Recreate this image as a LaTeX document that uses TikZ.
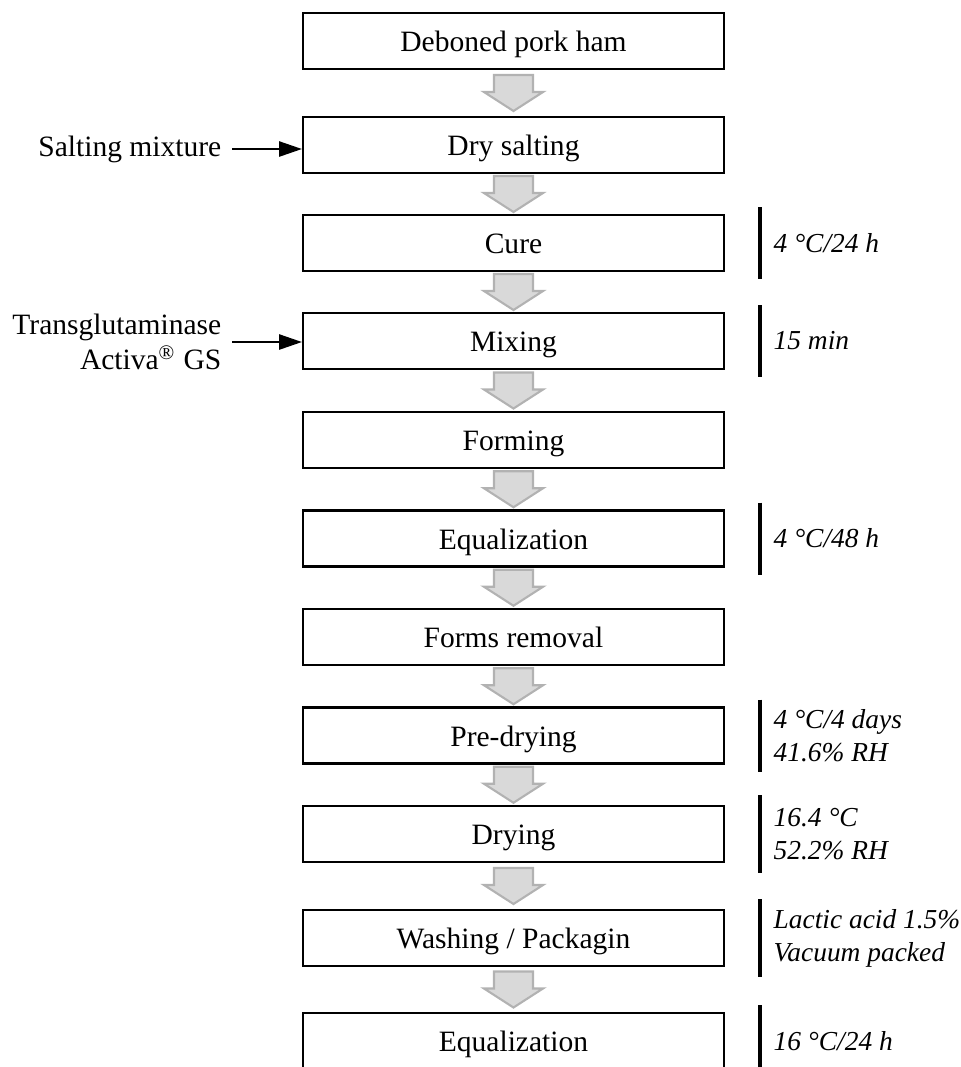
\documentclass[tikz,border=0pt]{standalone}
\usepackage{fontspec}
\setmainfont{Liberation Serif}
\usetikzlibrary{arrows.meta,calc}

\begin{document}
\begin{tikzpicture}[
		stepbox/.style={draw, line width=0.6pt, minimum width=4.21cm, minimum height=0.56cm, inner sep=0pt, text height=0.82em, text depth=0.2em, font=\fontsize{8.4}{10}\selectfont},
		flowarrow/.style={draw=black!30, fill=black!15, line width=0.6pt, line join=miter},
		inarrow/.style={-{Triangle[length=6.5pt,width=4.3pt]}, line width=0.6pt},
		notebar/.style={line width=0.9pt},
		note/.style={anchor=west, align=left, inner sep=0pt, font=\fontsize{7.8}{9.4}\selectfont\itshape},
		inlabel/.style={anchor=east, align=right, inner xsep=1mm, inner ysep=0pt, font=\fontsize{8.4}{10}\selectfont}
	]
		\useasboundingbox (0,0) rectangle (9.6,-10.67);
		%Process steps
		\node [stepbox] (b1) at (5.135,-0.41) {Deboned pork ham};
		\node [stepbox] (b2) at (5.135,-1.45) {Dry salting};
		\node [stepbox] (b3) at (5.135,-2.43) {Cure};
		\node [stepbox] (b4) at (5.135,-3.41) {Mixing};
		\node [stepbox] (b5) at (5.135,-4.40) {Forming};
		\node [stepbox] (b6) at (5.135,-5.385) {Equalization};
		\node [stepbox] (b7) at (5.135,-6.37) {Forms removal};
		\node [stepbox] (b8) at (5.135,-7.355) {Pre-drying};
		\node [stepbox] (b9) at (5.135,-8.34) {Drying};
		\node [stepbox] (b10) at (5.135,-9.38) {Washing / Packagin};
		\node [stepbox] (b11) at (5.135,-10.41) {Equalization};
		%Gray arrows between the steps
		\foreach \a/\b in {b1/b2,b2/b3,b3/b4,b4/b5,b5/b6,b6/b7,b7/b8,b8/b9,b9/b10,b10/b11} {
			\path (\a.south) -- (\b.north) coordinate [midway] (m\a);
			\draw [flowarrow] ($(m\a)+(-0.195,0.18)$) -- ++(0.39,0) -- ++(0,-0.17) -- ++(0.1,0)
				-- ($(m\a)+(0,-0.18)$) -- ($(m\a)+(-0.295,0.01)$) -- ++(0.1,0) -- cycle;
		}
		%Inputs from the left
		\node [inlabel] (salt) at (2.32,-1.49) {Salting mixture};
		\draw [inarrow] (salt.east) -- (salt.east -| b2.west);
		\node [inlabel] (tg) at (2.32,-3.42) {Transglutaminase\\Activa\textsuperscript{\textregistered} GS};
		\draw [inarrow] (tg.east) -- (tg.east -| b4.west);
		%Conditions on the right
		\coordinate (barx) at (7.6,0);
		%cure
		\draw [notebar] ($(b3.east -| barx)+(0,0.36)$) -- ($(b3.east -| barx)+(0,-0.36)$);
		\node [note] (n3) at ($(b3.east -| barx)+(0.13,0)$) {4 °C/24 h};
		%mixing
		\draw [notebar] ($(b4.east -| barx)+(0,0.36)$) -- ($(b4.east -| barx)+(0,-0.36)$);
		\node [note] (n4) at ($(b4.east -| barx)+(0.13,0)$) {15 min};
		%equalization
		\draw [notebar] ($(b6.east -| barx)+(0,0.36)$) -- ($(b6.east -| barx)+(0,-0.36)$);
		\node [note] (n6) at ($(b6.east -| barx)+(0.13,0)$) {4 °C/48 h};
		%pre-drying
		\draw [notebar] ($(b8.east -| barx)+(0,0.36)$) -- ($(b8.east -| barx)+(0,-0.36)$);
		\node [note] (n8) at ($(b8.east -| barx)+(0.13,0)$) {4 °C/4 days\\41.6\% RH};
		%drying
		\draw [notebar] ($(b9.east -| barx)+(0,0.39)$) -- ($(b9.east -| barx)+(0,-0.39)$);
		\node [note] (n9) at ($(b9.east -| barx)+(0.13,0)$) {16.4 °C\\52.2\% RH};
		%washing
		\draw [notebar] ($(b10.east -| barx)+(0,0.39)$) -- ($(b10.east -| barx)+(0,-0.39)$);
		\node [note] (n10) at ($(b10.east -| barx)+(0.13,0)$) {Lactic acid 1.5\%\\Vacuum packed};
		%final equalization
		\draw [notebar] ($(b11.east -| barx)+(0,0.36)$) -- ($(b11.east -| barx)+(0,-0.36)$);
		\node [note] (n11) at ($(b11.east -| barx)+(0.13,0)$) {16 °C/24 h};
\end{tikzpicture}
\end{document}
